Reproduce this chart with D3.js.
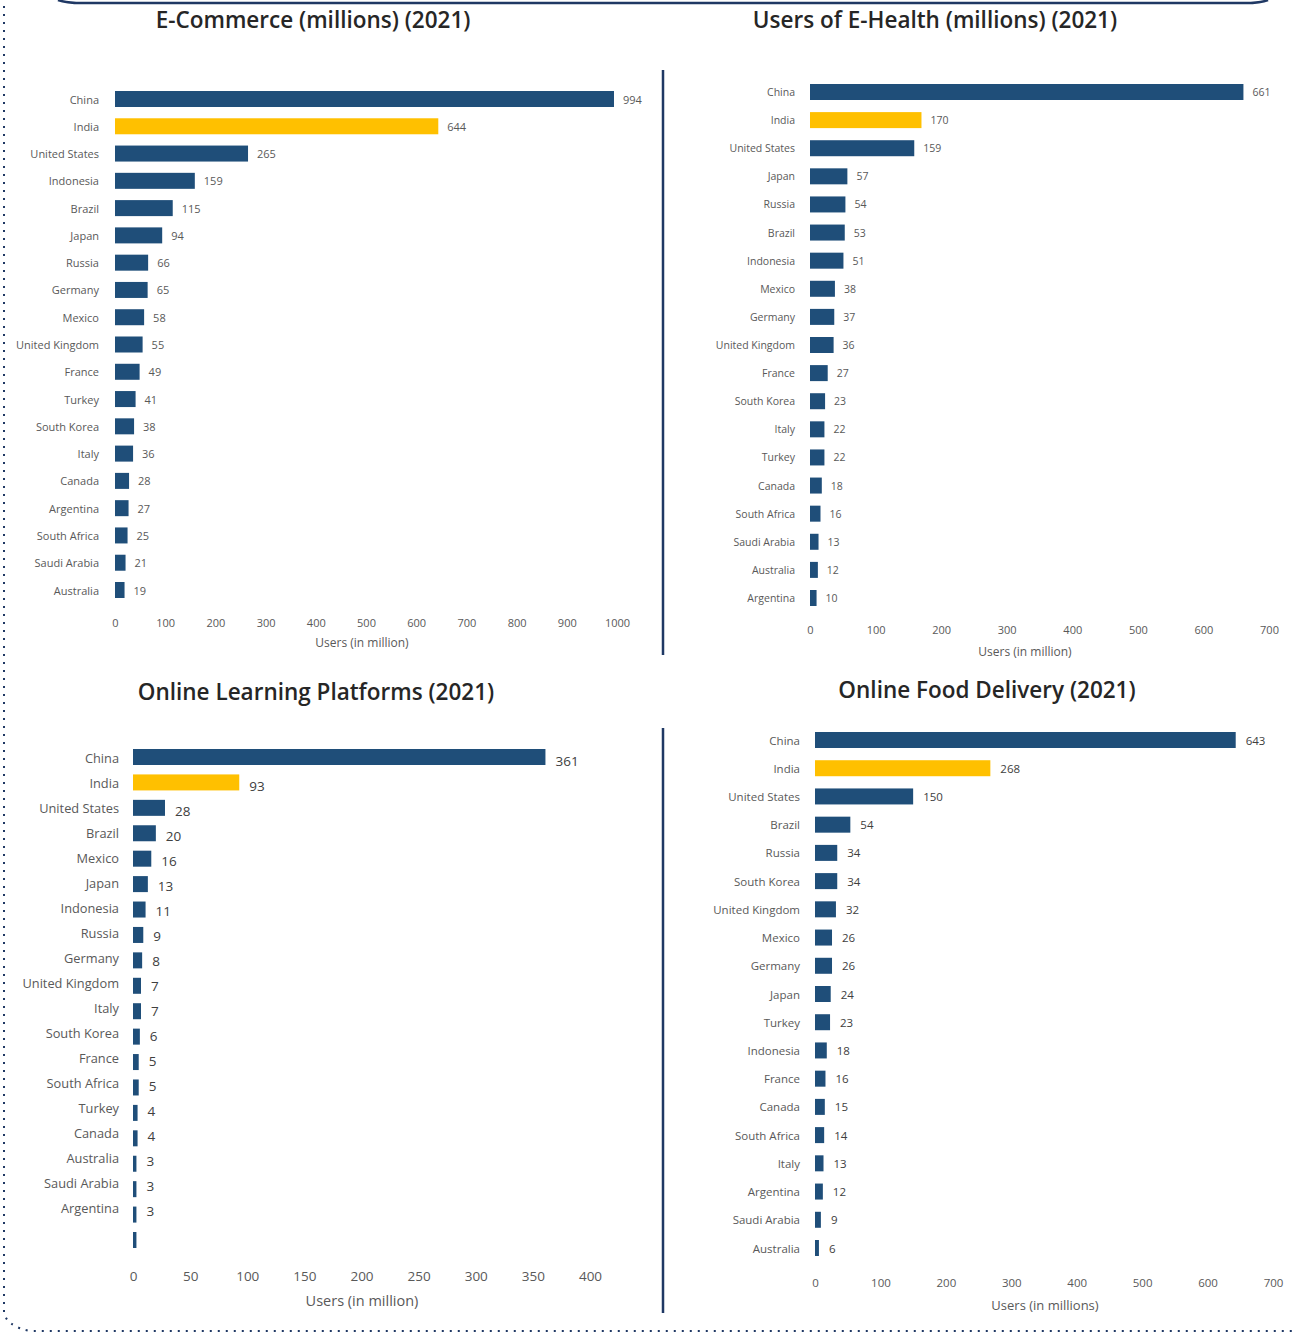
<!DOCTYPE html>
<meta charset="utf-8">
<script src="https://d3js.org/d3.v7.min.js"></script>
<style>
  body { margin: 0; background: #fff; }
  text { font-family: "Open Sans", "Noto Sans", sans-serif; }
</style>
<body>
<div id="chart"></div>
<script>

// E-Commerce
var ecomCountries = ["China", "India", "United States", "Indonesia", "Brazil", "Japan", "Russia", "Germany", "Mexico",
  "United Kingdom", "France", "Turkey", "South Korea", "Italy", "Canada", "Argentina", "South Africa", "Saudi Arabia", "Australia"];
var ecomUsers = [994, 644, 265, 159, 115, 94, 66, 65, 58, 55, 49, 41, 38, 36, 28, 27, 25, 21, 19];
var ecomTicks = [0, 100, 200, 300, 400, 500, 600, 700, 800, 900, 1000];

// E-Health
var ehealthCountries = ["China", "India", "United States", "Japan", "Russia", "Brazil", "Indonesia", "Mexico", "Germany",
  "United Kingdom", "France", "South Korea", "Italy", "Turkey", "Canada", "South Africa", "Saudi Arabia", "Australia", "Argentina"];
var ehealthUsers = [661, 170, 159, 57, 54, 53, 51, 38, 37, 36, 27, 23, 22, 22, 18, 16, 13, 12, 10];
var ehealthTicks = [0, 100, 200, 300, 400, 500, 600, 700];

// Online learning
var learnCountries = ["China", "India", "United States", "Brazil", "Mexico", "Japan", "Indonesia", "Russia", "Germany",
  "United Kingdom", "Italy", "South Korea", "France", "South Africa", "Turkey", "Canada", "Australia", "Saudi Arabia", "Argentina"];
var learnUsers = [361, 93, 28, 20, 16, 13, 11, 9, 8, 7, 7, 6, 5, 5, 4, 4, 3, 3, 3];
var learnBlankBar = 3; // unlabelled bar at the bottom of the original
var learnTicks = [0, 50, 100, 150, 200, 250, 300, 350, 400];

// Food delivery
var foodCountries = ["China", "India", "United States", "Brazil", "Russia", "South Korea", "United Kingdom", "Mexico", "Germany",
  "Japan", "Turkey", "Indonesia", "France", "Canada", "South Africa", "Italy", "Argentina", "Saudi Arabia", "Australia"];
var foodUsers = [643, 268, 150, 54, 34, 34, 32, 26, 26, 24, 23, 18, 16, 15, 14, 13, 12, 9, 6];
var foodTicks = [0, 100, 200, 300, 400, 500, 600, 700];

var navy = "#1f4e79";
var yellow = "#ffc000";
var frame = "#1f3864";
var grey = "#595959";

var W = 1292, H = 1333;
var svg = d3.select("#chart").append("svg")
  .attr("width", W)
  .attr("height", H);

// decorations
svg.append("path")
  .attr("d", "M58,0 Q66,3 82,3 L1245,3 Q1261,3 1268,0")
  .attr("fill", "none")
  .attr("stroke", frame)
  .attr("stroke-width", 2.5);

svg.append("path")
  .attr("d", "M4,6 L4,1312 Q6,1326 30,1331 L1292,1331")
  .attr("fill", "none")
  .attr("stroke", frame)
  .attr("stroke-width", 2)
  .attr("stroke-dasharray", "2,6");

svg.append("line").attr("x1", 663).attr("x2", 663).attr("y1", 70).attr("y2", 655)
  .attr("stroke", frame).attr("stroke-width", 2.5);
svg.append("line").attr("x1", 663).attr("x2", 663).attr("y1", 728).attr("y2", 1313)
  .attr("stroke", frame).attr("stroke-width", 2.5);

function drawPanel(p) {
  var g = svg.append("g");

  var x = d3.scaleLinear().domain([0, p.max]).range([p.x0, p.x1]);
  var yLab = d3.scalePoint().domain(p.countries).range([p.yFirst, p.yLast]);

  var barKeys = p.countries.slice();
  var barVals = p.values.slice();
  if (p.extra != null) { barKeys.push(""); barVals.push(p.extra); }
  var yBar = d3.scalePoint().domain(barKeys).range([p.yFirst + (p.barShift || 0), p.barLast || p.yLast]);
  var bh = p.barH;

  // title
  g.append("text")
    .attr("x", p.titleX)
    .attr("y", p.titleY)
    .attr("text-anchor", "middle")
    .attr("dominant-baseline", "central")
    .style("font-size", p.titleSize + "px")
    .style("font-weight", 600)
    .style("fill", "#262626")
    .text(p.title);

  // bars
  g.selectAll("rect")
    .data(barVals)
    .enter()
    .append("rect")
    .attr("x", x(0))
    .attr("y", function(d, i) { return yBar(barKeys[i]) - bh / 2; })
    .attr("width", function(d) { return x(d) - x(0); })
    .attr("height", bh)
    .style("fill", function(d, i) { return barKeys[i] == "India" ? yellow : navy; });

  // category labels
  g.selectAll(".cat")
    .data(p.countries)
    .enter()
    .append("text")
    .attr("class", "cat")
    .attr("x", x(0) - p.labelGap)
    .attr("y", function(d) { return yLab(d); })
    .attr("text-anchor", "end")
    .attr("dominant-baseline", "central")
    .style("font-size", p.fontSize + "px")
    .style("fill", grey)
    .text(function(d) { return d; });

  // value labels
  g.selectAll(".val")
    .data(p.values)
    .enter()
    .append("text")
    .attr("class", "val")
    .attr("x", function(d) { return x(d) + p.valueGap; })
    .attr("y", function(d, i) { return yLab(p.countries[i]) + (p.valueShift || 0); })
    .attr("dominant-baseline", "central")
    .style("font-size", p.valueSize + "px")
    .style("fill", p.valueColor || grey)
    .text(function(d) { return d; });

  // x axis (labels only)
  var ax = g.append("g")
    .attr("transform", "translate(0," + p.axisY + ")")
    .call(d3.axisBottom(x).tickValues(p.ticks).tickFormat(d3.format("d")).tickSize(0).tickPadding(0));
  ax.select(".domain").remove();
  ax.selectAll("text")
    .attr("dy", null)
    .attr("y", 0)
    .attr("dominant-baseline", "central")
    .style("font-family", "\"Open Sans\", sans-serif")
    .style("font-size", p.tickSize + "px")
    .style("fill", grey);

  g.append("text")
    .attr("x", p.axisTitleX)
    .attr("y", p.axisTitleY)
    .attr("text-anchor", "middle")
    .attr("dominant-baseline", "central")
    .style("font-size", p.axisTitleSize + "px")
    .style("fill", grey)
    .text(p.axisTitle);
}

drawPanel({
  title: "E-Commerce (millions) (2021)", titleX: 313, titleY: 19, titleSize: 22.5,
  countries: ecomCountries, values: ecomUsers, ticks: ecomTicks,
  max: 1000, x0: 115, x1: 617, yFirst: 99, yLast: 590, barH: 16,
  fontSize: 11, valueSize: 11, labelGap: 16, valueGap: 9,
  axisY: 622, tickSize: 11, axisTitle: "Users (in million)", axisTitleSize: 12,
  axisTitleX: 362, axisTitleY: 642
});

drawPanel({
  title: "Users of E-Health (millions) (2021)", titleX: 935, titleY: 19, titleSize: 22.5,
  countries: ehealthCountries, values: ehealthUsers, ticks: ehealthTicks,
  max: 700, x0: 810, x1: 1269, yFirst: 92, yLast: 598, barH: 16,
  fontSize: 10.5, valueSize: 10.5, labelGap: 15, valueGap: 9,
  axisY: 629, tickSize: 11, axisTitle: "Users (in million)", axisTitleSize: 12,
  axisTitleX: 1025, axisTitleY: 651
});

drawPanel({
  title: "Online Learning Platforms (2021)", titleX: 316, titleY: 691, titleSize: 22.5,
  countries: learnCountries, values: learnUsers, extra: learnBlankBar, ticks: learnTicks,
  max: 400, x0: 133, x1: 590, yFirst: 758, yLast: 1208, barShift: -1, barLast: 1240, barH: 16,
  fontSize: 12.8, valueSize: 13.5, valueColor: "#404040", labelGap: 14, valueGap: 10, valueShift: 3,
  axisY: 1276, tickSize: 13.5, axisTitle: "Users (in million)", axisTitleSize: 14.5,
  axisTitleX: 362, axisTitleY: 1300
});

drawPanel({
  title: "Online Food Delivery (2021)", titleX: 987, titleY: 689, titleSize: 22.5,
  countries: foodCountries, values: foodUsers, ticks: foodTicks,
  max: 700, x0: 815, x1: 1273, yFirst: 740, yLast: 1248, barH: 16,
  fontSize: 11.5, valueSize: 11.5, valueColor: "#404040", labelGap: 15, valueGap: 10,
  axisY: 1282, tickSize: 11.5, axisTitle: "Users (in millions)", axisTitleSize: 13,
  axisTitleX: 1045, axisTitleY: 1305
});

</script>
</body>
